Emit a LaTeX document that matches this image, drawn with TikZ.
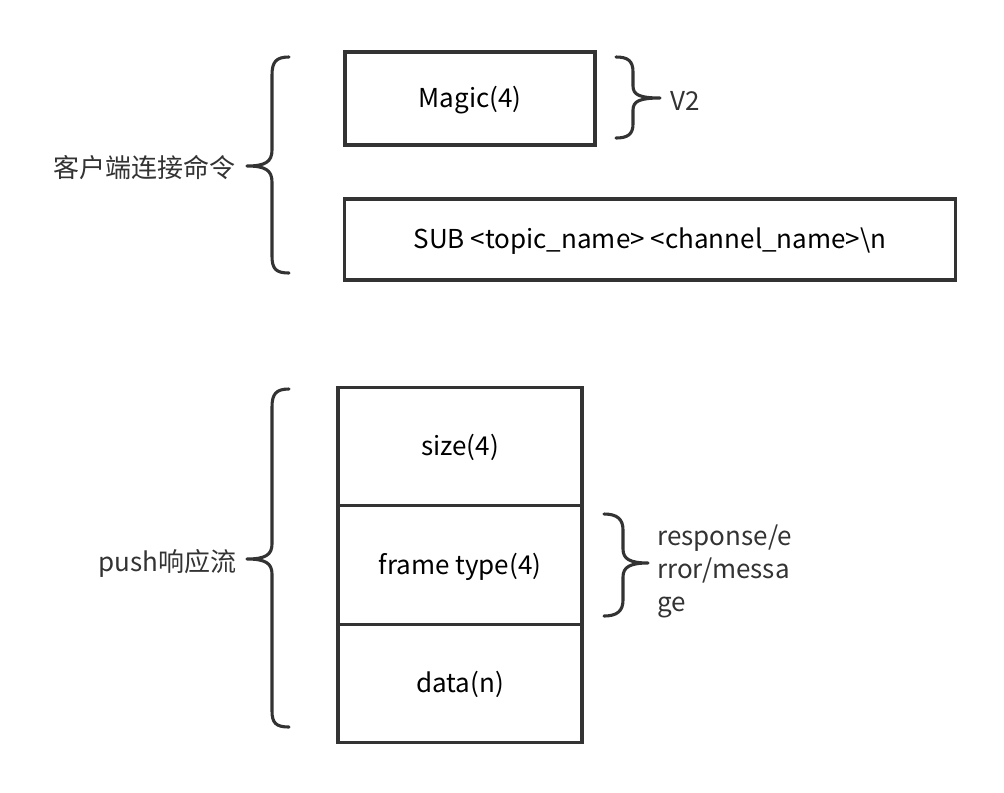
\documentclass[tikz,border=0pt]{standalone}
\usepackage{fontspec}
\setmainfont{Noto Sans CJK SC}
\usepackage{tikz}
\usetikzlibrary{positioning}

\definecolor{ink}{HTML}{333333}

\tikzset{
    field/.style={draw=ink, line width=2.2pt, inner sep=0pt, outer sep=0pt, align=center,
        text height=1.35em, text depth=0.05em},
    brace/.style={draw=ink, line width=2.2pt, line cap=round, line join=round},
    lbl/.style={text=ink, inner sep=0pt}
}

\begin{document}
\begin{tikzpicture}[x=0.025cm, y=-0.025cm, every node/.style={font=\fontsize{18.5}{23.5}\selectfont}]
    \useasboundingbox (0,0) rectangle (1004,792);

    % connection command
    \node[field, minimum width=6.25cm, minimum height=2.325cm] (magic) at (470,98.5) {Magic(4)};
    \node[field, minimum width=15.25cm, minimum height=2.025cm] (sub) at (650,239.5) {SUB <topic\_name> <channel\_name>\textbackslash n};
    \node[lbl, anchor=east] (conncmd) at (236,168) {客户端连接命令};
    \node[lbl, anchor=west] (ver) at (670,101) {V2};

    % push stream
    \node[field, minimum width=6.1cm, minimum height=2.96cm] (size) at (460,446.5) {size(4)};
    \node[field, minimum width=6.1cm, minimum height=2.96cm, below=0pt of size] (ftype) {frame type(4)};
    \node[field, minimum width=6.1cm, minimum height=2.96cm, below=0pt of ftype] (data) {data(n)};
    \node[lbl, anchor=east] (push) at (237,563) {push响应流};
    \node[lbl, anchor=west, align=left] (kinds) at (657,571) {response/e\\rror/messa\\ge};

    % braces
    \draw[brace] (289,57) .. controls (276,57) and (272,62) .. (272,75)
        -- (272,150) .. controls (272,162) and (265,166) .. (247,166)
        .. controls (265,166) and (272,170) .. (272,182)
        -- (272,256) .. controls (272,269) and (276,273) .. (289,273);
    \draw[brace] (616,57) .. controls (628,57) and (633,61) .. (633,72)
        -- (633,86) .. controls (633,95) and (640,98) .. (660,98)
        .. controls (640,98) and (633,101) .. (633,110)
        -- (633,124) .. controls (633,134) and (628,138) .. (616,138);
    \draw[brace] (289,389) .. controls (276,389) and (272,394) .. (272,407)
        -- (272,544) .. controls (272,555) and (265,559) .. (247,559)
        .. controls (265,559) and (272,563) .. (272,574)
        -- (272,711) .. controls (272,723) and (276,727) .. (289,727);
    \draw[brace] (604,514) .. controls (617,514) and (623,519) .. (623,530)
        -- (623,549) .. controls (623,559) and (630,563) .. (648,563)
        .. controls (630,563) and (623,567) .. (623,577)
        -- (623,600) .. controls (623,611) and (617,616) .. (604,616);
\end{tikzpicture}
\end{document}
